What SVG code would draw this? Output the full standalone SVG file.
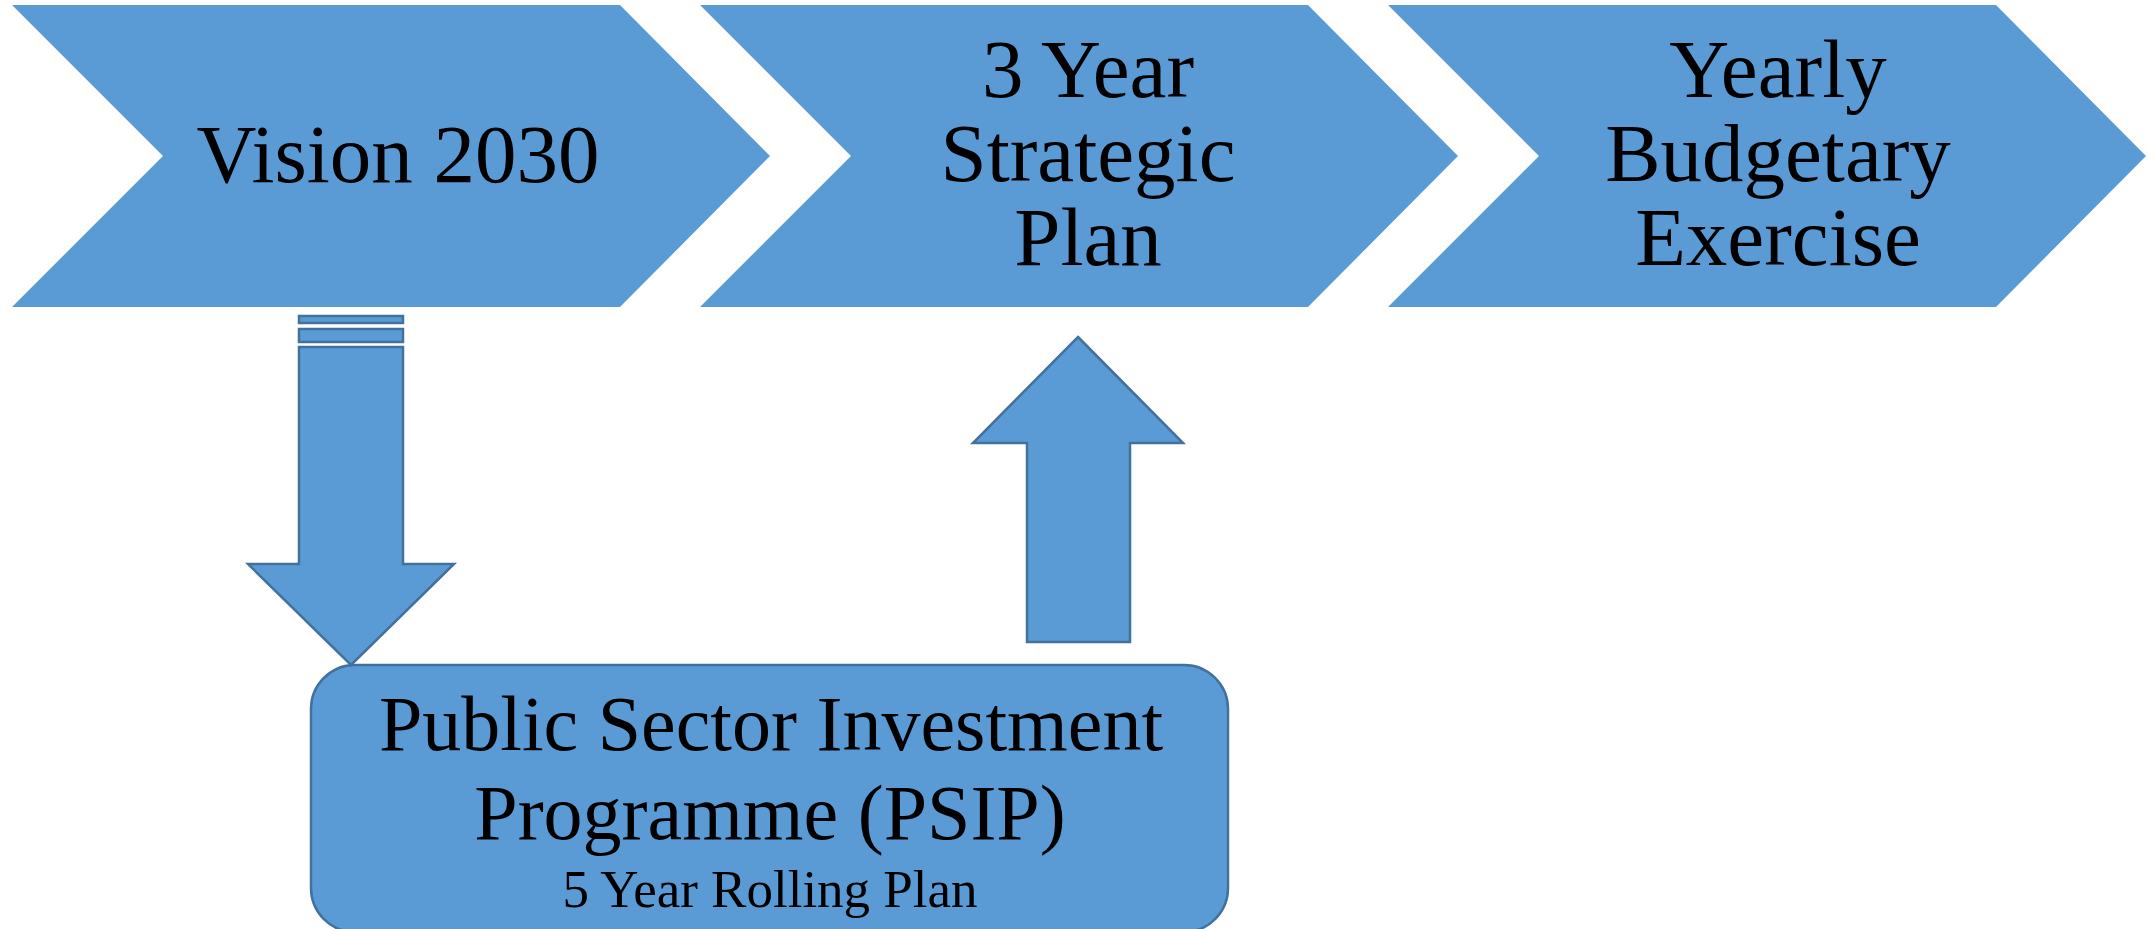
<svg xmlns="http://www.w3.org/2000/svg" width="2154" height="929" viewBox="0 0 2154 929">
<style>
.chev{fill:#5B9BD5;stroke:none}
.blk{fill:#5B9BD5;stroke:#41719C;stroke-width:2.5;stroke-linejoin:miter}
.t{font-family:"Liberation Serif","Times New Roman",serif;fill:#000;text-anchor:middle}
.big{font-size:83px}
</style>
<rect width="2154" height="929" fill="#fff"/>
<g id="vision2030">
<polygon class="chev" points="12,5 620,5 770,156 620,307 12,307 163,156"/>
<text class="t big" x="398" y="182">Vision 2030</text>
</g>
<g id="strategic-plan">
<polygon class="chev" points="700,5 1308,5 1458,156 1308,307 700,307 851,156"/>
<text class="t big" x="1088" y="97">3 Year</text>
<text class="t big" x="1088" y="181">Strategic</text>
<text class="t big" x="1088" y="265">Plan</text>
</g>
<g id="budgetary-exercise">
<polygon class="chev" points="1388,5 1996,5 2146,156 1996,307 1388,307 1539,156"/>
<text class="t big" x="1778" y="97">Yearly</text>
<text class="t big" x="1778" y="181">Budgetary</text>
<text class="t big" x="1778" y="265">Exercise</text>
</g>
<g id="psip">
<rect class="blk" x="311" y="665" width="917" height="267" rx="44" ry="44"/>
<text class="t" x="771" y="750" font-size="78">Public Sector Investment</text>
<text class="t" x="770" y="839" font-size="78">Programme (PSIP)</text>
<text class="t" x="770" y="907" font-size="53">5 Year Rolling Plan</text>
</g>
<g id="connectors">
<rect class="blk" x="299" y="316" width="104" height="7"/>
<rect class="blk" x="299" y="329" width="104" height="13"/>
<polygon class="blk" points="299,347 403,347 403,564 454,564 351,665 248,564 299,564"/>
<polygon class="blk" points="1078,337 1183,443 1130,443 1130,642 1027,642 1027,443 973,443"/>
</g>
</svg>
